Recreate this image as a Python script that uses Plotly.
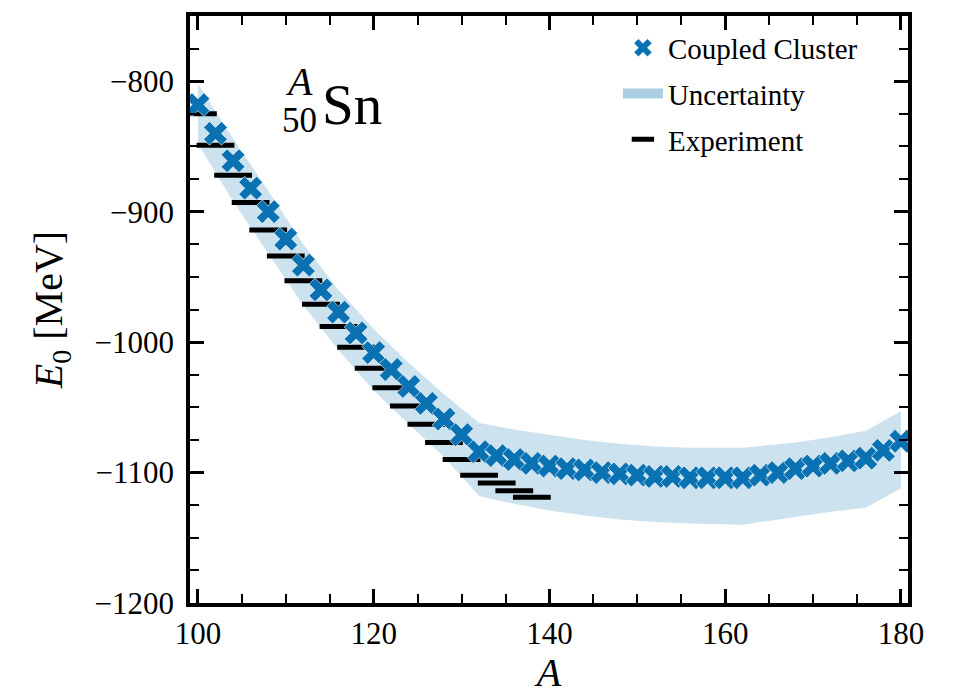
import plotly.graph_objects as go

# Coupled Cluster results
A_cc = list(range(100, 181, 2))
E_cc = [-818, -840, -861, -882, -900, -921, -941, -960, -977, -993,
        -1008, -1021, -1034, -1047, -1059, -1071, -1084, -1087, -1090, -1093,
        -1095, -1097, -1098, -1100, -1101, -1102, -1103, -1103, -1104, -1104,
        -1104, -1104, -1102, -1100, -1097, -1095, -1093, -1091, -1089, -1083,
        -1076]

# Uncertainty band
A_band = [100, 104, 108, 112, 116, 120, 124, 128, 132, 136, 140, 144, 148,
          152, 156, 162, 168, 172, 176, 180]
E_upper = [-802, -844, -884, -925, -960, -990, -1016, -1040, -1062, -1067,
           -1071, -1075, -1078, -1080, -1081, -1081, -1077, -1073, -1068, -1053]
E_lower = [-848, -892, -932, -972, -1006, -1037, -1063, -1088, -1118, -1124,
           -1129, -1133, -1136, -1138, -1139, -1140, -1134, -1130, -1127, -1112]

# Experiment
A_exp = list(range(100, 139, 2))
E_exp = [-825, -849, -872, -893, -914, -934, -953, -971, -988, -1004,
         -1020, -1035, -1049, -1063, -1077, -1090, -1102, -1108, -1114, -1119]

FONT = "Liberation Serif, serif"
BLUE = "#0a72b2"
BAND = "#cde2ef"
BAND_LEGEND = "#a9cee4"

fig = go.Figure()

fig.add_trace(go.Scatter(
    x=A_band + A_band[::-1], y=E_upper + E_lower[::-1],
    fill="toself", fillcolor=BAND, line=dict(width=0, color=BAND),
    mode="lines", name="Uncertainty", hoverinfo="skip", showlegend=False))

# legend swatch for the uncertainty band
fig.add_trace(go.Scatter(
    x=[None], y=[None], mode="lines", name="Uncertainty",
    line=dict(width=22, color=BAND_LEGEND), legendrank=2, legendgroup="b"))

fig.add_trace(go.Scatter(
    x=A_exp, y=E_exp, mode="markers", name="Experiment",
    marker=dict(symbol="line-ew", size=27, color="black",
                line=dict(width=5, color="black")),
    legendrank=3, legendgroup="c"))

fig.add_trace(go.Scatter(
    x=A_cc, y=E_cc, mode="markers", name="Coupled Cluster",
    marker=dict(symbol="x", size=21, color=BLUE,
                line=dict(width=0.6, color="white")),
    legendrank=1, legendgroup="a"))

axis_common = dict(
    showline=True, linewidth=3.8, linecolor="black", mirror="allticks",
    ticks="inside", tickwidth=3, tickcolor="black", showgrid=False,
    zeroline=False, tickfont=dict(family=FONT, size=31, color="black"),
)

fig.update_xaxes(
    range=[99.1, 180.8], tick0=100, dtick=20, ticklen=14,
    minor=dict(dtick=5, ticks="inside", ticklen=9, tickwidth=2, tickcolor="black"),
    title=dict(text="<i>A</i>", font=dict(family=FONT, size=40, color="black"), standoff=4),
    **axis_common)
fig.update_yaxes(
    range=[-1200, -750], tick0=-1200, dtick=100, ticklen=14,
    minor=dict(dtick=25, ticks="inside", ticklen=9, tickwidth=2, tickcolor="black"),
    title=dict(text="<i>E</i><sub>0</sub> [MeV]", font=dict(family=FONT, size=40, color="black"), standoff=20),
    ticklabelstandoff=6,
    **axis_common)

fig.add_annotation(text="Sn", xref="paper", yref="paper", x=0.226, y=0.849,
                   xanchor="center", yanchor="middle",
                   showarrow=False, font=dict(family=FONT, size=57, color="black"))
fig.add_annotation(text="<i>A</i>", xref="paper", yref="paper", x=0.152, y=0.888,
                   xanchor="center", yanchor="middle",
                   showarrow=False, font=dict(family=FONT, size=40, color="black"))
fig.add_annotation(text="50", xref="paper", yref="paper", x=0.153, y=0.822,
                   xanchor="center", yanchor="middle",
                   showarrow=False, font=dict(family=FONT, size=35, color="black"))

fig.update_layout(
    width=955, height=695, autosize=False,
    margin=dict(l=190, r=47, t=12, b=88),
    paper_bgcolor="white", plot_bgcolor="white",
    legend=dict(x=0.596, y=0.989, xanchor="left", yanchor="top",
                bgcolor="rgba(0,0,0,0)", borderwidth=0,
                font=dict(family=FONT, size=29, color="black"),
                tracegroupgap=5, itemwidth=40),
    showlegend=True,
)

fig.write_html("out.html")
